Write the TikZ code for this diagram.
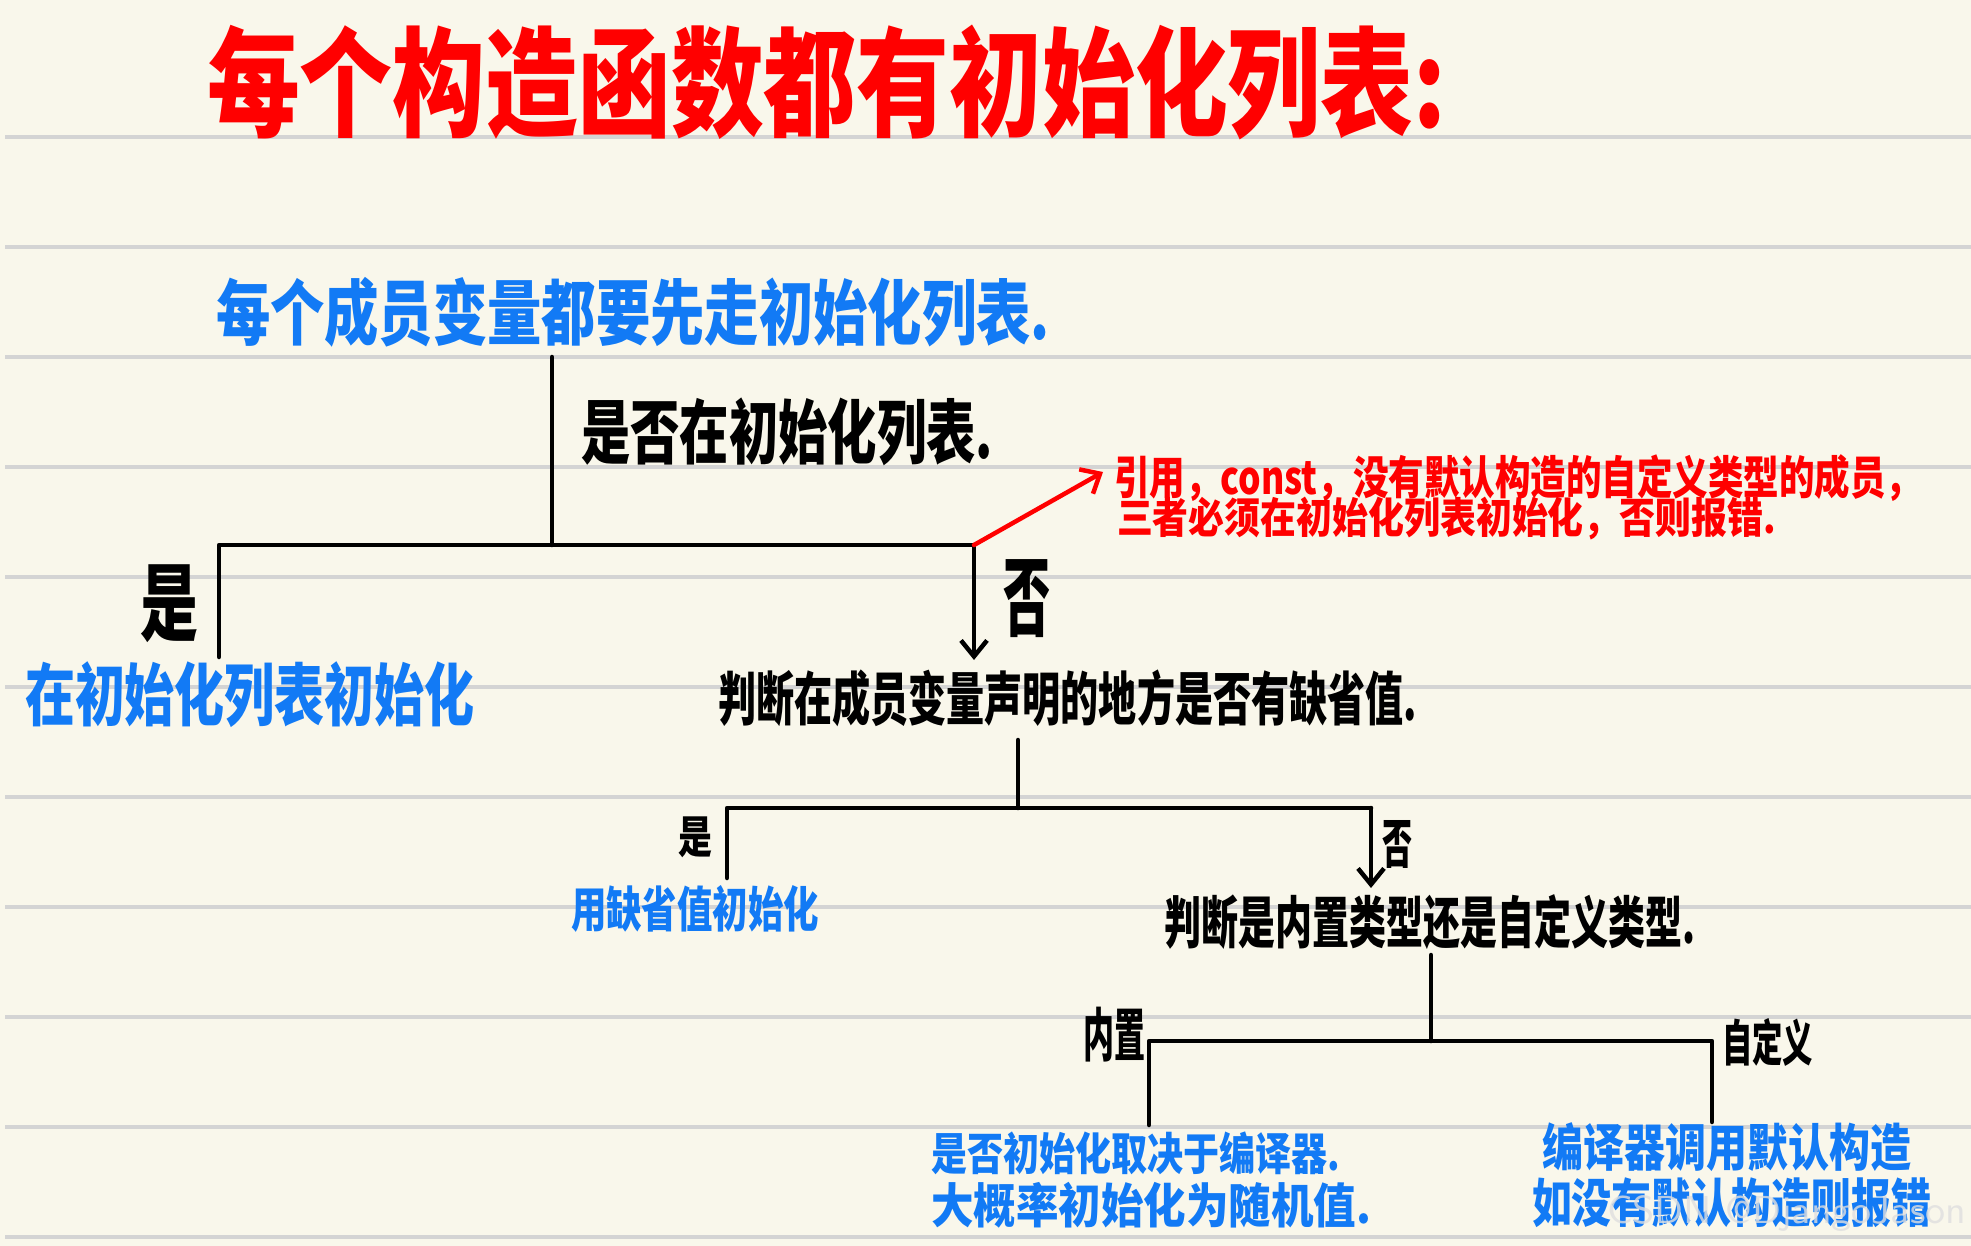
\documentclass[tikz,border=0pt]{standalone}
\usepackage{fontspec}
\usepackage{graphicx}
\newfontfamily\cjk{Noto Sans CJK SC}
\usetikzlibrary{arrows.meta}
\definecolor{paper}{RGB}{249,247,235}
\definecolor{ruleline}{RGB}{212,212,212}
\definecolor{inkblue}{RGB}{18,122,245}
\definecolor{inkred}{RGB}{255,0,0}
\definecolor{inkblack}{RGB}{0,0,0}
\newcommand{\fitt}[3]{\resizebox*{#1pt}{#2pt}{\cjk\bfseries #3}}
\begin{document}
\begin{tikzpicture}[x=1pt,y=-1pt,
  txt/.style={inner sep=0pt,outer sep=0pt,anchor=north west},
  conn/.style={line width=4.5pt,draw=inkblack,line cap=round,line join=round},
  tip/.style={-{Straight Barb[length=16pt,width=26pt]}},
  redconn/.style={line width=4.5pt,draw=inkred,line cap=round,-{Straight Barb[length=16pt,width=28pt]}},
  paperrule/.style={line width=4pt,draw=ruleline}]
\fill[paper] (0,0) rectangle (1971,1246);
\useasboundingbox (0,0) rectangle (1971,1246);
% ruled lines
\foreach \k in {0,...,10}{
  \draw[paperrule] (5,137+110*\k) -- (1971,137+110*\k);
}
% texts
\node[txt,text=inkred] (title) at (207,25) {\fitt{1239}{115}{每个构造函数都有初始化列表:}};
\node[txt,text=inkblue] (n1) at (216,277) {\fitt{834}{70}{每个成员变量都要先走初始化列表.}};
\node[txt,text=inkblack] (q1) at (581,398) {\fitt{412}{68}{是否在初始化列表.}};
\node[txt,text=inkblack] (yes1) at (140,565) {\fitt{58}{78}{是}};
\node[txt,text=inkblack] (no1) at (1003,560) {\fitt{47}{78}{否}};
\node[txt,text=inkblue] (a1) at (25,662) {\fitt{450}{66}{在初始化列表初始化}};
\node[txt,text=inkred] (red1) at (1114,455) {\fitt{807}{47}{引用，const，没有默认构造的自定义类型的成员，}};
\node[txt,text=inkred] (red2) at (1117,497) {\fitt{659}{43}{三者必须在初始化列表初始化，否则报错.}};
\node[txt,text=inkblack] (q2) at (718,670) {\fitt{699}{57}{判断在成员变量声明的地方是否有缺省值.}};
\node[txt,text=inkblack] (yes2) at (678,817) {\fitt{34}{41}{是}};
\node[txt,text=inkblack] (no2) at (1382,820) {\fitt{30}{48}{否}};
\node[txt,text=inkblue] (a2) at (571,885) {\fitt{248}{47}{用缺省值初始化}};
\node[txt,text=inkblack] (q3) at (1164,895) {\fitt{531}{55}{判断是内置类型还是自定义类型.}};
\node[txt,text=inkblack] (builtin) at (1083,1007) {\fitt{62}{55}{内置}};
\node[txt,text=inkblack] (custom) at (1722,1018) {\fitt{91}{48}{自定义}};
\node[txt,text=inkblue] (b1) at (931,1132) {\fitt{409}{43}{是否初始化取决于编译器.}};
\node[txt,text=inkblue] (b2) at (931,1182) {\fitt{440}{46}{大概率初始化为随机值.}};
\node[txt,text=inkblue] (c1) at (1542,1123) {\fitt{369}{49}{编译器调用默认构造}};
\node[txt,text=inkblue] (c2) at (1532,1178) {\fitt{399}{50}{如没有默认构造则报错}};
\node[txt,text=white!75!gray,opacity=0.8] (wm) at (1607,1196) {\resizebox*{359pt}{36pt}{\sffamily CSDN @DjangoJason}};
% junction coordinates
\coordinate (t1) at (552,357);
\coordinate (j1) at (552,545);
\coordinate (l1) at (219,545);
\coordinate (l1e) at (219,657);
\coordinate (r1) at (974,545);
\coordinate (r1e) at (974,660);
\coordinate (redend) at (1103,472);
\coordinate (t2) at (1018,740);
\coordinate (j2) at (1018,808);
\coordinate (l2) at (727,808);
\coordinate (l2e) at (727,878);
\coordinate (r2) at (1371,808);
\coordinate (r2e) at (1371,888);
\coordinate (t3) at (1431,955);
\coordinate (j3) at (1431,1041);
\coordinate (l3) at (1149,1041);
\coordinate (l3e) at (1149,1125);
\coordinate (r3) at (1712,1041);
\coordinate (r3e) at (1712,1122);
% connectors
\draw[conn] (t1) -- (j1);
\draw[conn] (l1e) -- (l1) -- (r1);
\draw[conn,tip] (r1) -- (r1e);
\draw[redconn] (r1) -- (redend);
\draw[conn] (t2) -- (j2);
\draw[conn] (l2e) -- (l2) -- (r2);
\draw[conn,tip] (r2) -- (r2e);
\draw[conn] (t3) -- (j3);
\draw[conn] (l3e) -- (l3) -- (r3) -- (r3e);
\end{tikzpicture}
\end{document}
